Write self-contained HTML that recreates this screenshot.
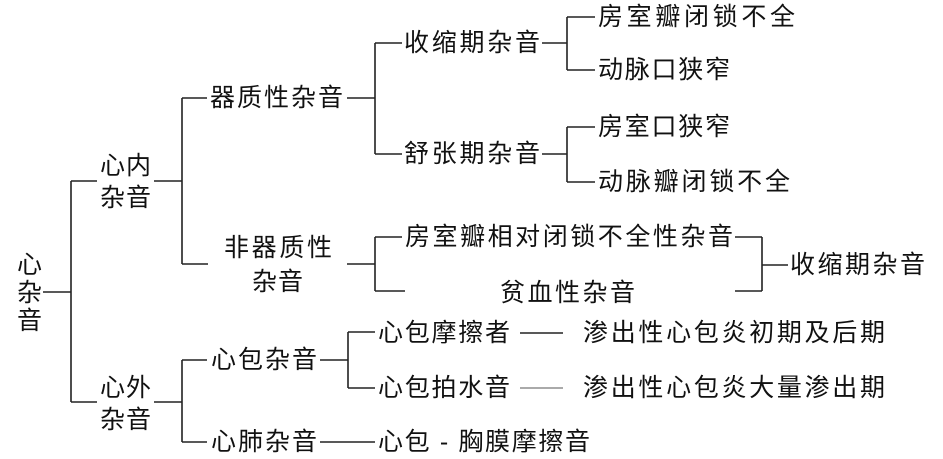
<!DOCTYPE html>
<html><head><meta charset="utf-8"><style>
html,body{margin:0;padding:0;background:#fff;width:943px;height:459px;overflow:hidden}
text{font-family:"Liberation Sans","Noto Sans CJK SC",sans-serif;font-size:25px;fill:#111;dominant-baseline:central}
</style></head><body>
<svg width="943" height="459" viewBox="0 0 943 459" xmlns="http://www.w3.org/2000/svg">
<g stroke="#222" stroke-width="1.6" fill="none">
<path d="M43 292H71M71 181V402M71 181H97M71 402H97"/>
<path d="M154 181H182M182 98V264M182 98H207M182 264H208"/>
<path d="M347 98H375M375 43V154M375 43H402M375 154H402"/>
<path d="M542 43H567M567 17V70M567 17H595M567 70H595"/>
<path d="M542 154H567M567 127V182M567 127H595M567 182H595"/>
<path d="M347 264H375M375 237V291M375 237H402M375 291H405"/>
<path d="M735 237H762M762 237V291M735 291H762M762 265H788"/>
<path d="M154 402H182M182 360V442M182 360H207M182 442H207"/>
<path d="M320 360H348M348 332V388M348 332H375M348 388H375"/>
<path d="M520 333H563"/>
<path d="M320 442H375"/>
</g>
<path d="M520 388H563" stroke="#555" stroke-width="1"/>
<text x="17" y="265">心</text><text x="17" y="293">杂</text><text x="17" y="321">音</text>
<text x="100" y="166" textLength="51" lengthAdjust="spacing">心内</text>
<text x="100" y="198" textLength="51" lengthAdjust="spacing">杂音</text>
<text x="100" y="388" textLength="51" lengthAdjust="spacing">心外</text>
<text x="100" y="420" textLength="51" lengthAdjust="spacing">杂音</text>
<text x="210" y="98" textLength="133" lengthAdjust="spacing">器质性杂音</text>
<text x="224" y="248" textLength="108" lengthAdjust="spacing">非器质性</text>
<text x="252" y="282" textLength="51" lengthAdjust="spacing">杂音</text>
<text x="404" y="43" textLength="136" lengthAdjust="spacing">收缩期杂音</text>
<text x="404" y="154" textLength="136" lengthAdjust="spacing">舒张期杂音</text>
<text x="598" y="17" textLength="197" lengthAdjust="spacing">房室瓣闭锁不全</text>
<text x="598" y="70" textLength="132" lengthAdjust="spacing">动脉口狭窄</text>
<text x="598" y="127" textLength="132" lengthAdjust="spacing">房室口狭窄</text>
<text x="598" y="182" textLength="192" lengthAdjust="spacing">动脉瓣闭锁不全</text>
<text x="405" y="237" textLength="328" lengthAdjust="spacing">房室瓣相对闭锁不全性杂音</text>
<text x="500" y="293" textLength="135" lengthAdjust="spacing">贫血性杂音</text>
<text x="790" y="265" textLength="135" lengthAdjust="spacing">收缩期杂音</text>
<text x="211" y="360" textLength="106" lengthAdjust="spacing">心包杂音</text>
<text x="378" y="333" textLength="132" lengthAdjust="spacing">心包摩擦者</text>
<text x="378" y="388" textLength="132" lengthAdjust="spacing">心包拍水音</text>
<text x="583" y="333" textLength="302" lengthAdjust="spacing">渗出性心包炎初期及后期</text>
<text x="583" y="388" textLength="302" lengthAdjust="spacing">渗出性心包炎大量渗出期</text>
<text x="211" y="442" textLength="106" lengthAdjust="spacing">心肺杂音</text>
<text x="378" y="442" textLength="212" lengthAdjust="spacing">心包 - 胸膜摩擦音</text>
</svg>
</body></html>
